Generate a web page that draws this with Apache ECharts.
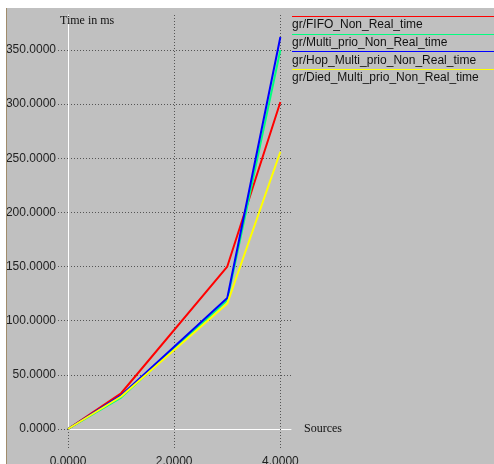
<!DOCTYPE html>
<html>
<head>
<meta charset="utf-8">
<script src="https://cdn.jsdelivr.net/npm/echarts@6/dist/echarts.min.js"></script>
<style>
  html, body { margin: 0; padding: 0; background: #fff; }
  #frame { position: absolute; left: 6px; top: 8px; width: 488px; height: 456px; border-left: 1px solid #a08c6c; background: #c0c0c0; }
  #chart { width: 487px; height: 456px; }
</style>
</head>
<body>
<div id="frame"><div id="chart"></div></div>
<script>
// Sources on x, time in ms on y
const sources = [0, 1, 3, 4];
const fifo = [0, 33, 150, 302];
const multiPrio = [0, 29, 119, 350];
const hopMulti = [0, 31, 121, 362];
const diedMulti = [0, 30, 116, 256];

const xTicks = [0, 2, 4];
const yTicks = [0, 50, 100, 150, 200, 250, 300, 350];

const names = [
  'gr/FIFO_Non_Real_time',
  'gr/Multi_prio_Non_Real_time',
  'gr/Hop_Multi_prio_Non_Real_time',
  'gr/Died_Multi_prio_Non_Real_time'
];
const colors = ['#ff0000', '#00ff7f', '#0000ff', '#ffff00'];
const values = [fifo, multiPrio, hopMulti, diedMulti];

const chart = echarts.init(document.getElementById('chart'));

const dotted = { color: '#555', type: [1, 2], width: 1 };
const rowH = 17.7;

// legend rule drawn above each name
const legendRules = colors.map((c, i) => ({
  type: 'line',
  shape: { x1: 285, y1: Math.round(8 + i * rowH) + 0.5, x2: 487, y2: Math.round(8 + i * rowH) + 0.5 },
  style: { stroke: c, lineWidth: 1 },
  silent: true
}));

const option = {
  animation: false,
  backgroundColor: 'transparent',
  title: {
    text: 'Time in ms',
    left: 48,
    top: 2,
    textStyle: { fontFamily: 'Liberation Serif', fontSize: 12, fontWeight: 'normal', color: '#111' }
  },
  legend: {
    orient: 'vertical',
    left: 280,
    top: 8,
    padding: 0,
    itemGap: 0,
    icon: 'none',
    itemWidth: 0,
    itemHeight: 0,
    data: names,
    textStyle: { fontFamily: 'Liberation Sans', fontSize: 12, color: '#111', lineHeight: rowH },
    selectedMode: false
  },
  graphic: legendRules,
  grid: { left: 61, right: 203, top: 7, bottom: 35, outerBoundsMode: 'none', containLabel: false },
  xAxis: {
    type: 'value',
    min: 0,
    max: 4.2,
    name: 'Sources',
    nameLocation: 'end',
    nameGap: 13,
    nameTextStyle: { fontFamily: 'Liberation Serif', fontSize: 12, color: '#111', padding: [0, 0, 6, 0] },
    axisLine: { show: true, onZero: true, lineStyle: { color: '#fff', width: 1 } },
    axisTick: { show: true, length: 21, customValues: xTicks, lineStyle: dotted },
    axisLabel: {
      customValues: xTicks,
      margin: 27,
      fontFamily: 'Liberation Sans',
      fontSize: 12,
      color: '#222',
      formatter: (v) => v.toFixed(4)
    },
    splitLine: { show: true, lineStyle: dotted }
  },
  yAxis: {
    type: 'value',
    min: 0,
    max: 382.3,
    axisLine: { show: true, lineStyle: { color: '#fff', width: 1 } },
    axisTick: { show: true, length: 10, customValues: yTicks, lineStyle: dotted },
    axisLabel: {
      customValues: yTicks,
      margin: 12,
      fontFamily: 'Liberation Sans',
      fontSize: 12,
      color: '#222',
      formatter: (v) => v.toFixed(4)
    },
    splitLine: { show: true, lineStyle: dotted }
  },
  series: names.map((n, i) => ({
    name: n,
    type: 'line',
    data: sources.map((x, j) => [x, values[i][j]]),
    symbol: 'none',
    color: colors[i],
    lineStyle: { color: colors[i], width: 2 }
  }))
};

chart.setOption(option);
</script>
</body>
</html>
